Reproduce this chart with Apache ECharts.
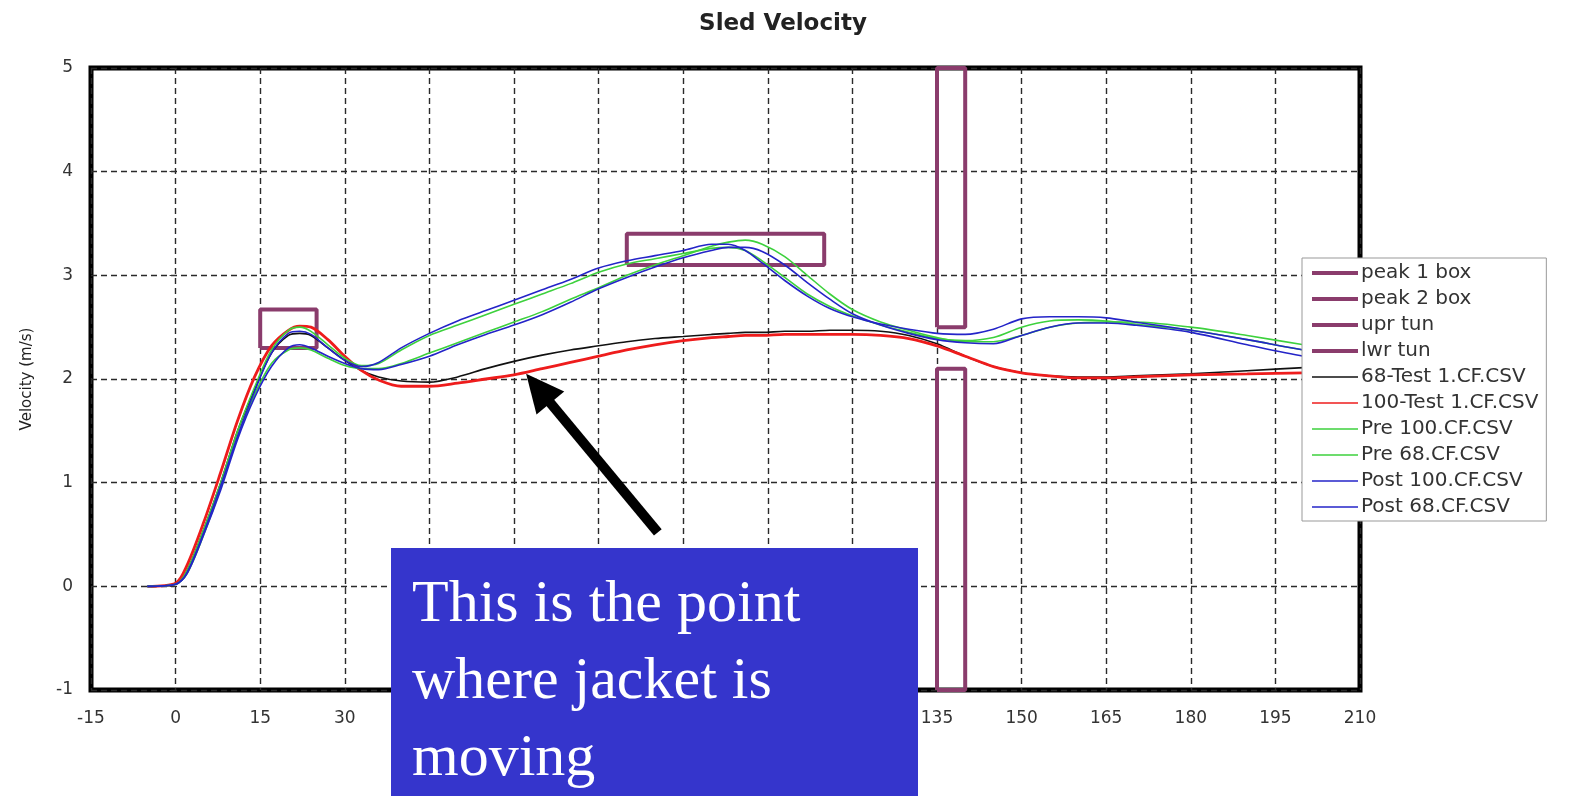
<!DOCTYPE html>
<html>
<head>
<meta charset="utf-8">
<title>Sled Velocity</title>
<script src="https://cdn.jsdelivr.net/npm/echarts/dist/echarts.min.js"></script>
<style>
  html, body { margin: 0; padding: 0; background: #fff; }
  #sledChart { width: 1572px; height: 796px; }
</style>
</head>
<body>
<div id="sledChart"></div>
<script>
// time (ms) shared by all test traces
const timeMs = [-5, 0, 2, 5, 8, 11, 14, 17, 20, 22, 24, 27, 30, 33, 36, 40, 45, 50, 55, 60,
  65, 70, 75, 80, 85, 90, 95, 98, 101, 104, 108, 112, 116, 120, 125, 130, 135, 140, 145, 150,
  155, 160, 165, 170, 180, 190, 200, 210]

const test68 = [0, 0.02, 0.15, 0.55, 1.0, 1.5, 1.9, 2.25, 2.42, 2.44, 2.42, 2.3, 2.18, 2.08, 2.02, 1.98, 1.97, 2.02, 2.1, 2.17,
  2.23, 2.28, 2.32, 2.36, 2.39, 2.41, 2.43, 2.44, 2.45, 2.45, 2.46, 2.46, 2.47, 2.47, 2.46, 2.42, 2.34, 2.22, 2.12, 2.06,
  2.03, 2.02, 2.02, 2.03, 2.05, 2.08, 2.11, 2.14]
const test100 = [0, 0.03, 0.2, 0.62, 1.1, 1.6, 2.02, 2.32, 2.47, 2.51, 2.5, 2.38, 2.22, 2.08, 1.99, 1.93, 1.93, 1.96, 2.0, 2.04,
  2.1, 2.16, 2.22, 2.28, 2.33, 2.37, 2.4, 2.41, 2.42, 2.42, 2.43, 2.43, 2.43, 2.43, 2.42, 2.39, 2.32, 2.22, 2.12, 2.06,
  2.03, 2.01, 2.01, 2.02, 2.04, 2.05, 2.06, 2.07]
const pre100 = [0, 0.02, 0.15, 0.55, 1.0, 1.5, 1.92, 2.28, 2.47, 2.5, 2.46, 2.33, 2.2, 2.13, 2.15, 2.28, 2.42, 2.52, 2.62, 2.72,
  2.82, 2.92, 3.03, 3.11, 3.16, 3.21, 3.26, 3.27, 3.24, 3.14, 2.98, 2.82, 2.7, 2.61, 2.52, 2.45, 2.39, 2.37, 2.4, 2.5,
  2.56, 2.57, 2.56, 2.53, 2.47, 2.38, 2.28, 2.2]
const pre68 = [0, 0.02, 0.12, 0.5, 0.95, 1.45, 1.85, 2.15, 2.28, 2.3, 2.28, 2.2, 2.13, 2.1, 2.1, 2.15, 2.25, 2.35, 2.45, 2.55,
  2.65, 2.77, 2.88, 3.0, 3.1, 3.19, 3.28, 3.32, 3.34, 3.3, 3.18, 3.0, 2.82, 2.67, 2.55, 2.47, 2.4, 2.36, 2.36, 2.42,
  2.5, 2.54, 2.55, 2.55, 2.5, 2.42, 2.33, 2.25]
const post100 = [0, 0.02, 0.13, 0.52, 0.97, 1.45, 1.88, 2.25, 2.44, 2.46, 2.43, 2.3, 2.18, 2.12, 2.16, 2.3, 2.44, 2.56, 2.66, 2.76,
  2.86, 2.96, 3.07, 3.14, 3.19, 3.24, 3.3, 3.3, 3.24, 3.12, 2.95, 2.8, 2.68, 2.6, 2.53, 2.48, 2.44, 2.43, 2.48, 2.58,
  2.6, 2.6, 2.59, 2.55, 2.47, 2.38, 2.28, 2.2]
const post68 = [0, 0.02, 0.12, 0.5, 0.93, 1.42, 1.82, 2.12, 2.3, 2.33, 2.3, 2.22, 2.15, 2.1, 2.09, 2.14, 2.22, 2.33, 2.43, 2.52,
  2.62, 2.74, 2.87, 2.98, 3.08, 3.17, 3.24, 3.27, 3.27, 3.23, 3.1, 2.93, 2.77, 2.63, 2.52, 2.44, 2.38, 2.35, 2.34, 2.42,
  2.5, 2.54, 2.54, 2.52, 2.45, 2.33, 2.22, 2.15]

// boxes drawn on the plot: [x0, x1, y0, y1]
const peak1Box = [15, 25, 2.3, 2.67]
const peak2Box = [80, 115, 3.1, 3.4]
const uprTun = [135, 140, 2.5, 5]
const lwrTun = [135, 140, -1, 2.1]

// arrow annotation: tail and head (data coords)
const arrowTail = [85.5, 0.52]
const arrowHead = [64.3, 1.91]

const xTicks = { min: -15, max: 210, interval: 15 }
const yTicks = { min: -1, max: 5, interval: 1 }

const PURPLE = '#8a3c6c'
const font = 'DejaVu Sans'

let myChart = null

function boxPath(b) {
  return [[b[0], b[2]], [b[0], b[3]], [b[1], b[3]], [b[1], b[2]], [b[0], b[2]]]
}

function toPairs(arr) {
  return timeMs.map((t, i) => [t, arr[i]])
}

function boxSeries(name, b) {
  return {
    name,
    type: 'line',
    data: boxPath(b),
    symbol: 'none',
    color: PURPLE,
    lineStyle: { color: PURPLE, width: 4 },
    z: 3
  }
}

function traceSeries(name, arr, color, width) {
  return {
    name,
    type: 'line',
    data: toPairs(arr),
    symbol: 'none',
    smooth: 0.3,
    color,
    lineStyle: { color, width }
  }
}

const splitLine = {
  show: true,
  lineStyle: { color: '#2a2a2a', type: [6, 4], width: 1.4 }
}

function init() {
  myChart = echarts.init(document.getElementById('sledChart'))

  const series = [
    boxSeries('peak 1 box', peak1Box),
    boxSeries('peak 2 box', peak2Box),
    boxSeries('upr tun', uprTun),
    boxSeries('lwr tun', lwrTun),
    traceSeries('68-Test 1.CF.CSV', test68, '#111111', 1.6),
    traceSeries('100-Test 1.CF.CSV', test100, '#ee1c1c', 2.8),
    traceSeries('Pre 100.CF.CSV', pre100, '#3dd13d', 1.6),
    traceSeries('Pre 68.CF.CSV', pre68, '#3dd13d', 1.6),
    traceSeries('Post 100.CF.CSV', post100, '#2424c8', 1.6),
    traceSeries('Post 68.CF.CSV', post68, '#2424c8', 1.6)
  ]

  // the black arrow pointing at the dip
  series[4].markLine = {
    silent: true,
    symbol: ['none', 'triangle'],
    symbolSize: [36, 38],
    label: { show: false },
    lineStyle: { color: '#000', width: 10, type: 'solid' },
    data: [[{ coord: arrowTail }, { coord: arrowHead }]],
    z: 6
  }

  // legend shows plain line samples, no symbols
  const legendData = series.map((s, i) => ({
    name: s.name,
    itemStyle: { opacity: 0 },
    lineStyle: { width: i < 4 ? 4 : 1.5 }
  }))

  const option = {
    animation: false,
    title: {
      text: 'Sled Velocity',
      left: 778,
      textAlign: 'center',
      top: 8,
      textStyle: { fontFamily: font, fontSize: 23, fontWeight: 'bold', color: '#222' }
    },
    legend: {
      orient: 'vertical',
      left: 1302,
      top: 258,
      padding: [5, 8, 4, 8],
      itemWidth: 46,
      itemHeight: 14,
      itemGap: 6,
      backgroundColor: '#fff',
      borderColor: '#999',
      borderWidth: 1,
      borderRadius: 0,
      textStyle: { fontFamily: font, fontSize: 20, lineHeight: 20, color: '#333', padding: [0, 0, 0, -2] },
      data: legendData,
      z: 10
    },
    grid: {
      left: 91,
      right: 212,
      top: 68,
      bottom: 106,
      show: true,
      borderColor: '#000',
      borderWidth: 5,
      backgroundColor: '#fff'
    },
    xAxis: {
      type: 'value',
      min: xTicks.min,
      max: xTicks.max,
      interval: xTicks.interval,
      axisLine: { show: false },
      axisTick: { show: true, length: 6, lineStyle: { color: '#333' } },
      axisLabel: { fontFamily: font, fontSize: 17, color: '#333', margin: 20 },
      splitLine
    },
    yAxis: {
      type: 'value',
      min: yTicks.min,
      max: yTicks.max,
      interval: yTicks.interval,
      name: 'Velocity (m/s)',
      nameLocation: 'middle',
      nameRotate: 90,
      nameGap: 56,
      nameTextStyle: { fontFamily: font, fontSize: 15, color: '#222' },
      axisLine: { show: false },
      axisTick: { show: true, length: 6, lineStyle: { color: '#333' } },
      axisLabel: { fontFamily: font, fontSize: 17, color: '#333', margin: 18 },
      splitLine
    },
    graphic: [
      {
        type: 'rect',
        z: 100,
        shape: { x: 391, y: 548, width: 527, height: 248 },
        style: { fill: '#3535cc' }
      },
      {
        type: 'text',
        z: 101,
        x: 412,
        y: 567,
        style: {
          text: 'This is the point\nwhere jacket is\nmoving',
          font: '60px "Liberation Serif"',
          lineHeight: 77,
          fill: '#fff'
        }
      }
    ],
    series
  }

  myChart.setOption(option)
}

init()
</script>
</body>
</html>
